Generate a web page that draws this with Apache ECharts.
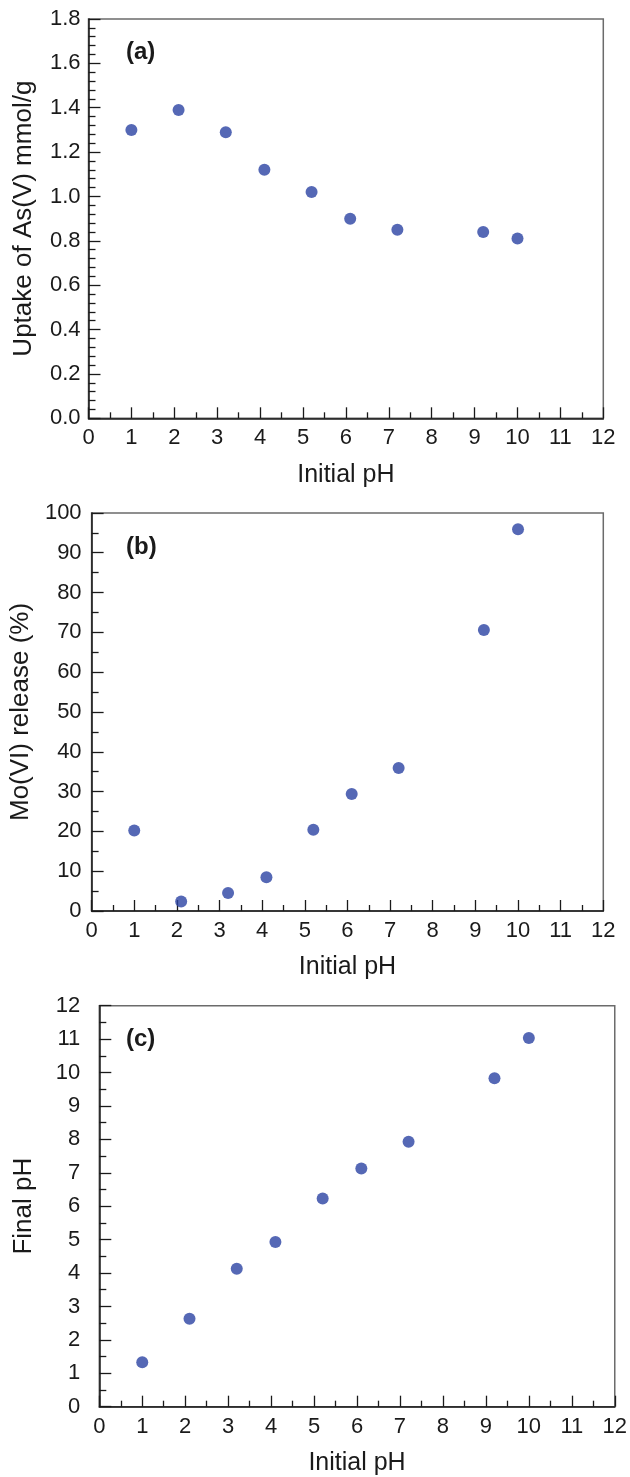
<!DOCTYPE html>
<html>
<head>
<meta charset="utf-8">
<script src="https://cdn.jsdelivr.net/npm/echarts@6/dist/echarts.min.js"></script>
<style>
  html, body { margin: 0; padding: 0; background: #fff; }
  #chart { width: 630px; height: 1477px; }
</style>
</head>
<body>
<div id="chart"></div>
<script>
// Initial pH of each batch (shared by all three panels)
const initialPH = [1.0, 2.1, 3.2, 4.1, 5.2, 6.1, 7.2, 9.2, 10.0];
// (a) As(V) uptake, mmol/g
const uptakeAs = [1.30, 1.39, 1.29, 1.12, 1.02, 0.90, 0.85, 0.84, 0.81];
// (b) Mo(VI) release, %
const moRelease = [20.2, 2.4, 4.5, 8.5, 20.4, 29.4, 35.9, 70.6, 95.9];
// (c) final pH after equilibration
const finalPH = [1.33, 2.63, 4.13, 4.93, 6.23, 7.13, 7.93, 9.83, 11.03];

const panelTags = ['(a)', '(b)', '(c)'];
const yTitles = ['Uptake of As(V) mmol/g', 'Mo(VI) release (%)', 'Final pH'];
const xTitle = 'Initial pH';

const FONT = '"Liberation Sans", Arial, Helvetica, sans-serif';
const INK = '#1a1a1a';
const AXIS = '#1a1a1a';
const FRAME = '#6b6b6b';
const DOT = '#2a42a3';

const grids = [
  { left: 88.5, top: 19, width: 514.8, height: 399.3 },
  { left: 89.8, top: 512.9, width: 513.5, height: 398.1 },
  { left: 99.3, top: 1005.7, width: 516.7, height: 401 }
].map(g => Object.assign({ show: true, borderColor: FRAME, borderWidth: 1.5, backgroundColor: 'transparent' }, g));

function xAxisFor(i) {
  return {
    type: 'value', gridIndex: i, min: 0, max: 12, interval: 1,
    name: xTitle, nameLocation: 'middle', nameGap: 44,
    nameTextStyle: { fontFamily: FONT, fontSize: 25, color: INK },
    axisLine: { show: true, onZero: false, lineStyle: { color: AXIS, width: 1.5 } },
    axisTick: { show: true, inside: true, length: 11, lineStyle: { color: AXIS, width: 1.3 } },
    minorTick: { show: true, splitNumber: 2, length: 6, lineStyle: { color: AXIS, width: 1.3 } },
    splitLine: { show: false },
    axisLabel: { fontFamily: FONT, fontSize: 22, color: INK, margin: 9, showMinLabel: true, showMaxLabel: true }
  };
}

function yAxisFor(i, min, max, interval, minorSplit, fmt, gap, labelMargin) {
  return {
    type: 'value', gridIndex: i, min: min, max: max, interval: interval,
    name: yTitles[i], nameLocation: 'middle', nameGap: gap,
    nameTextStyle: { fontFamily: FONT, fontSize: 26, color: INK },
    axisLine: { show: true, onZero: false, lineStyle: { color: AXIS, width: 1.5 } },
    axisTick: { show: true, inside: true, length: 12, lineStyle: { color: AXIS, width: 1.3 } },
    minorTick: { show: true, splitNumber: minorSplit, length: 7, lineStyle: { color: AXIS, width: 1.3 } },
    splitLine: { show: false },
    axisLabel: { fontFamily: FONT, fontSize: 22, color: INK, margin: labelMargin, formatter: fmt, showMinLabel: true, showMaxLabel: true }
  };
}

function pairs(ys) { return initialPH.map((x, k) => [x, ys[k]]); }

const chart = echarts.init(document.getElementById('chart'), null, { renderer: 'canvas' });
chart.setOption({
  animation: false,
  backgroundColor: '#ffffff',
  title: panelTags.map((t, i) => ({
    text: t, left: 121, top: [35, 530, 1022][i],
    textStyle: { fontFamily: FONT, fontSize: 24, fontWeight: 'bold', color: INK }
  })),
  grid: grids,
  xAxis: [xAxisFor(0), xAxisFor(1), xAxisFor(2)],
  yAxis: [
    yAxisFor(0, 0, 1.8, 0.2, 5, v => v.toFixed(1), 52, 8),
    yAxisFor(1, 0, 100, 10, 2, v => String(v), 53, 10),
    yAxisFor(2, 0, 12, 1, 2, v => String(v), 62.5, 19)
  ],
  series: [uptakeAs, moRelease, finalPH].map((ys, i) => ({
    type: 'scatter', xAxisIndex: i, yAxisIndex: i,
    data: pairs(ys), symbol: 'circle', symbolSize: 12,
    itemStyle: { color: DOT }
  }))
});
</script>
</body>
</html>
